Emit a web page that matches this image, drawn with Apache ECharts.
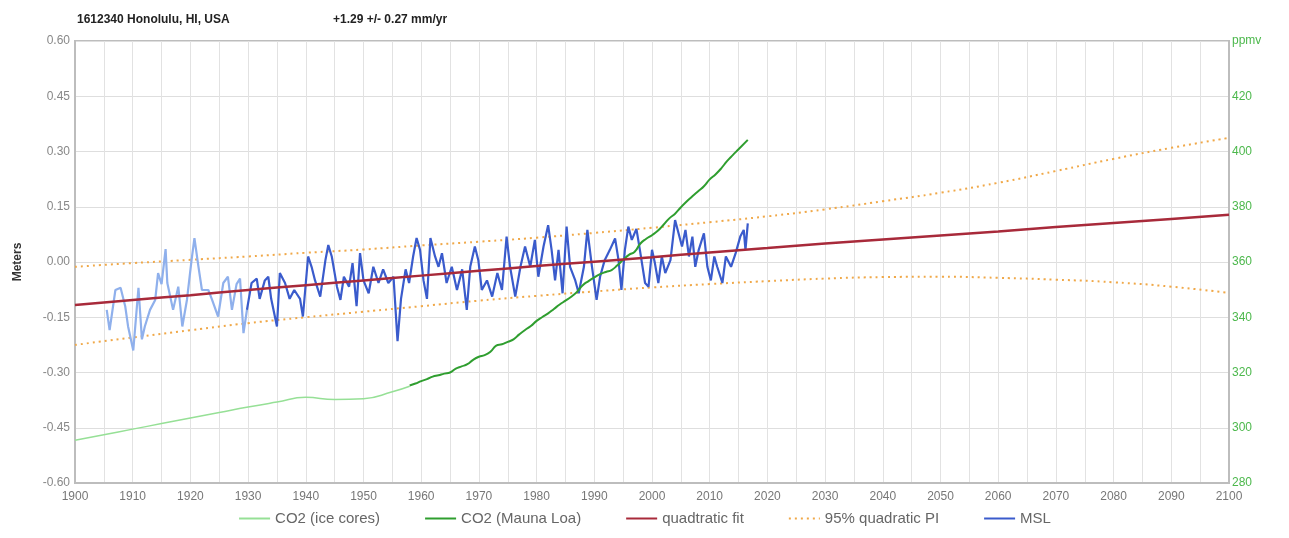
<!DOCTYPE html>
<html>
<head>
<meta charset="utf-8">
<script src="https://cdn.jsdelivr.net/npm/echarts@6/dist/echarts.min.js"></script>
<style>html,body{margin:0;padding:0;background:#fff}#c{width:1289px;height:538px}</style>
</head>
<body>
<div id="c"></div>
<script>
// ---- data ----
var fitYears = [1900,1910,1920,1930,1940,1950,1960,1970,1980,1990,2000,2010,2020,2030,2040,2050,2060,2070,2080,2090,2100];
var quadFit  = [-0.117,-0.103,-0.090,-0.076,-0.063,-0.050,-0.037,-0.024,-0.011,0.001,0.013,0.026,0.038,0.050,0.061,0.072,0.083,0.095,0.106,0.117,0.128];
var piUpper  = [-0.013,-0.003,0.006,0.015,0.025,0.034,0.045,0.055,0.066,0.079,0.093,0.108,0.124,0.143,0.165,0.188,0.215,0.247,0.280,0.310,0.337];
var piLower  = [-0.225,-0.205,-0.185,-0.166,-0.150,-0.135,-0.120,-0.105,-0.092,-0.080,-0.069,-0.060,-0.052,-0.045,-0.041,-0.040,-0.043,-0.048,-0.055,-0.067,-0.084];

var iceYears = [1900,1905,1910,1915,1920,1925,1930,1935,1940,1945,1950,1955,1958];
var iceCO2   = [295.5,297.5,299.5,301.5,303.5,305.5,307.5,309.3,311.0,310.2,310.5,313.0,315.0];

var mloYears = [1958,1959,1960,1961,1962,1963,1964,1965,1966,1967,1968,1969,1970,1971,1972,1973,1974,1975,1976,1977,1978,1979,1980,1981,1982,1983,1984,1985,1986,1987,1988,1989,1990,1991,1992,1993,1994,1995,1996,1997,1998,1999,2000,2001,2002,2003,2004,2005,2006,2007,2008,2009,2010,2011,2012,2013,2014,2015,2016.6];
var mloCO2   = [315.3,316.0,316.9,317.6,318.5,319.0,319.6,320.0,321.4,322.2,323.0,324.6,325.7,326.3,327.5,329.7,330.2,331.1,332.0,333.8,335.4,336.8,338.7,340.1,341.4,343.0,344.6,346.0,347.4,349.2,351.6,353.1,354.4,355.6,356.4,357.1,358.8,360.8,362.6,363.7,366.7,368.4,369.7,371.3,373.5,375.8,377.5,379.8,381.9,383.8,385.6,387.4,389.9,391.7,393.9,396.5,398.7,400.8,404.2];

var mslEarly = [[1905.5,-0.13],[1906,-0.185],[1907,-0.076],[1907.9,-0.07],[1908.7,-0.12],[1909.2,-0.175],[1910.1,-0.24],[1911,-0.07],[1911.6,-0.21],[1912.1,-0.175],[1913,-0.13],[1913.9,-0.103],[1914.4,-0.03],[1915,-0.06],[1915.7,0.035],[1916,-0.057],[1917,-0.13],[1917.9,-0.067],[1918.6,-0.175],[1919.4,-0.103],[1920.2,0.005],[1920.7,0.065],[1921.4,-0.013],[1922,-0.076],[1923.1,-0.076],[1923.7,-0.1],[1924.8,-0.148],[1925.7,-0.057],[1926.5,-0.04],[1927.2,-0.13],[1928,-0.06],[1928.6,-0.045],[1929.2,-0.193],[1929.8,-0.13]];
var mslLate = [[1929.8,-0.13],[1930.6,-0.057],[1931.5,-0.045],[1932,-0.1],[1932.9,-0.05],[1933.5,-0.04],[1934,-0.1],[1935,-0.175],[1935.5,-0.03],[1936.4,-0.057],[1937.2,-0.1],[1938,-0.076],[1939,-0.1],[1939.5,-0.148],[1940.4,0.015],[1941,-0.013],[1941.6,-0.05],[1942.5,-0.094],[1943.4,0.005],[1943.9,0.046],[1944.5,0.015],[1945.4,-0.067],[1946,-0.103],[1946.6,-0.04],[1947.5,-0.067],[1948.1,-0.003],[1948.8,-0.12],[1949.4,0.024],[1950,-0.05],[1950.9,-0.085],[1951.7,-0.013],[1952.6,-0.057],[1953.4,-0.02],[1954.3,-0.057],[1955.2,-0.04],[1955.9,-0.215],[1956.5,-0.1],[1957.3,-0.02],[1957.9,-0.057],[1958.6,0.015],[1959.2,0.065],[1959.8,0.033],[1960.4,-0.05],[1961,-0.1],[1961.6,0.065],[1962.4,0.015],[1963,-0.013],[1963.6,0.024],[1964.4,-0.057],[1965.3,-0.013],[1966.2,-0.076],[1967.1,-0.02],[1967.9,-0.13],[1968.5,-0.013],[1969.3,0.042],[1969.9,0.005],[1970.5,-0.076],[1971.4,-0.05],[1972.3,-0.094],[1973.2,-0.03],[1974,-0.076],[1974.8,0.069],[1975.4,-0.013],[1976.3,-0.094],[1977.2,-0.013],[1978,0.042],[1978.9,-0.013],[1979.7,0.06],[1980.3,-0.04],[1981.2,0.042],[1982,0.1],[1982.6,0.033],[1983.2,-0.05],[1983.8,0.033],[1984.5,-0.085],[1985.2,0.096],[1985.8,-0.013],[1986.7,-0.05],[1987.3,-0.085],[1988.2,-0.013],[1988.8,0.087],[1989.6,-0.013],[1990.4,-0.103],[1991,-0.04],[1991.8,0.005],[1992.7,0.033],[1993.6,0.064],[1994.2,0.005],[1994.7,-0.076],[1995.3,0.033],[1995.9,0.096],[1996.5,0.06],[1997.3,0.09],[1997.9,0.033],[1998.8,-0.057],[1999.4,-0.067],[2000,0.033],[2000.5,-0.003],[2001.1,-0.057],[2001.7,0.015],[2002.3,-0.03],[2003.2,0.005],[2004,0.114],[2004.6,0.078],[2005.2,0.042],[2005.8,0.087],[2006.4,0.015],[2007,0.069],[2007.5,-0.013],[2008.1,0.033],[2009,0.078],[2009.6,-0.013],[2010.2,-0.05],[2010.8,0.015],[2011.3,-0.013],[2012.2,-0.057],[2012.8,0.015],[2013.7,-0.013],[2014.5,0.024],[2015.3,0.069],[2015.9,0.087],[2016.2,0.033],[2016.6,0.105]];

var titleLeft = '1612340 Honolulu, HI, USA';
var titleRight = '+1.29 +/- 0.27 mm/yr';

function zip(xs, ys){ return xs.map(function(x,i){ return [x, ys[i]]; }); }

var chart = echarts.init(document.getElementById('c'));
var font = 'Liberation Sans, Arial, sans-serif';
chart.setOption({
  animation: false,
  backgroundColor: '#fff',
  textStyle: { fontFamily: font },
  title: [
    { text: titleLeft, left: 72, top: 9, textStyle: { fontSize: 12, fontWeight: 'bold', color: '#222', fontFamily: font } },
    { text: titleRight, left: 328, top: 9, textStyle: { fontSize: 12, fontWeight: 'bold', color: '#222', fontFamily: font } }
  ],
  grid: { left: 75, right: 60, top: 41, bottom: 55, show: true, borderColor: '#bdbdbd', borderWidth: 2 },
  legend: {
    bottom: 7, left: 'center', itemWidth: 31, itemHeight: 10, itemGap: 44,
    itemStyle: { opacity: 0 },
    textStyle: { color: '#666', fontSize: 15, fontFamily: font },
    data: ['CO2 (ice cores)', 'CO2 (Mauna Loa)', 'quadtratic fit', '95% quadratic PI', 'MSL']
  },
  xAxis: {
    type: 'value', min: 1900, max: 2100, interval: 10,
    axisLine: { show: true, onZero: false, lineStyle: { color: '#bdbdbd', width: 2 } },
    axisTick: { show: false },
    axisLabel: { color: '#777', fontSize: 12, margin: 8, formatter: function(v){ return String(v); } },
    splitLine: { show: true, lineStyle: { color: '#e2e2e2', width: 1 } },
    minorTick: { show: false, splitNumber: 2 },
    minorSplitLine: { show: true, lineStyle: { color: '#e2e2e2', width: 1 } }
  },
  yAxis: [
    {
      type: 'value', min: -0.6, max: 0.6, interval: 0.15,
      name: 'Meters', nameLocation: 'middle', nameGap: 51, nameRotate: 90,
      nameTextStyle: { fontWeight: 'bold', color: '#333', fontSize: 12 },
      axisLine: { show: true, onZero: false, lineStyle: { color: '#bdbdbd', width: 2 } },
      axisTick: { show: false },
      axisLabel: { color: '#888', fontSize: 12, margin: 5, formatter: function(v){ return v.toFixed(2); } },
      splitLine: { show: true, lineStyle: { color: '#dedede', width: 1 } }
    },
    {
      type: 'value', min: 280, max: 440, interval: 20, position: 'right',
      axisLine: { show: true, onZero: false, lineStyle: { color: '#bdbdbd', width: 2 } },
      axisTick: { show: false },
      axisLabel: { color: '#4cb84c', fontSize: 12, margin: 3, formatter: function(v){ return v === 440 ? 'ppmv' : String(v); } },
      splitLine: { show: false }
    }
  ],
  series: [
    { name: '95% quadratic PI', type: 'line', data: zip(fitYears, piUpper), symbol: 'none', smooth: true,
      lineStyle: { color: '#f0a848', width: 2, type: [2, 4] }, itemStyle: { color: '#f0a848' } },
    { name: '95% quadratic PI', type: 'line', data: zip(fitYears, piLower), symbol: 'none', smooth: true,
      lineStyle: { color: '#f0a848', width: 2, type: [2, 4] }, itemStyle: { color: '#f0a848' } },
    { name: 'MSL', type: 'line', data: mslLate, symbol: 'none',
      lineStyle: { color: '#3a5bcc', width: 2.2 }, itemStyle: { color: '#3a5bcc' } },
    { name: 'MSL', type: 'line', data: mslEarly, symbol: 'none',
      lineStyle: { color: '#8fb0ec', width: 2.2 }, itemStyle: { color: '#3a5bcc' } },
    { name: 'CO2 (ice cores)', type: 'line', yAxisIndex: 1, data: zip(iceYears, iceCO2), symbol: 'none', smooth: true,
      lineStyle: { color: '#96e096', width: 1.5 }, itemStyle: { color: '#96e096' } },
    { name: 'CO2 (Mauna Loa)', type: 'line', yAxisIndex: 1, data: zip(mloYears, mloCO2), symbol: 'none', smooth: true,
      lineStyle: { color: '#2f9e2f', width: 2 }, itemStyle: { color: '#2f9e2f' } },
    { name: 'quadtratic fit', type: 'line', data: zip(fitYears, quadFit), symbol: 'none', smooth: true,
      lineStyle: { color: '#a82a3a', width: 2.5 }, itemStyle: { color: '#a82a3a' } }
  ]
});
</script>
</body>
</html>
